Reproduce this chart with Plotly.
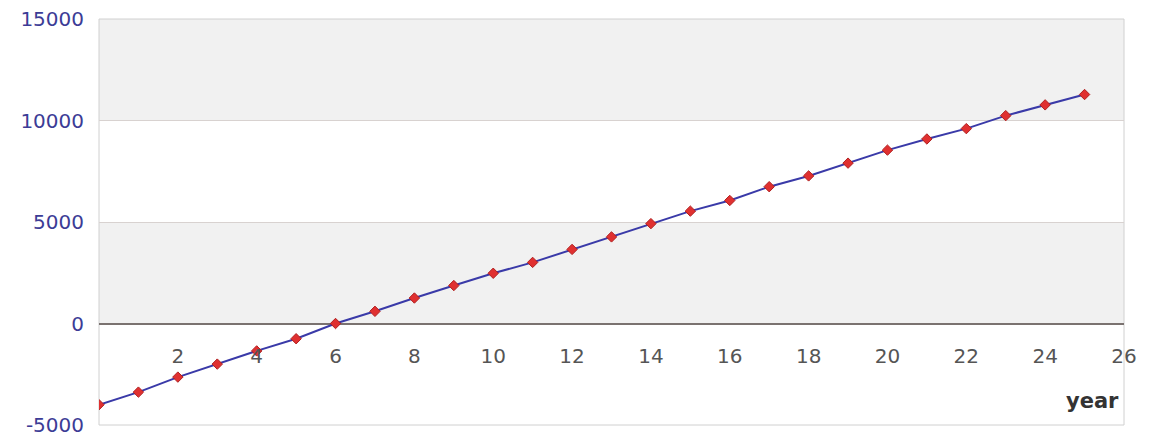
import plotly.graph_objects as go

years = list(range(0, 26))
values = [-4000, -3380, -2640, -2000, -1350, -750, 0, 600, 1255, 1870,
          2475, 3010, 3650, 4265, 4920, 5535, 6060, 6740, 7270, 7900,
          8540, 9090, 9600, 10240, 10770, 11280]
y_ticks = [-5000, 0, 5000, 10000, 15000]
y_tick_text = ["-5000", "0", "5000", "10000", "15000"]
x_ticks = list(range(2, 27, 2))
band_colors = ["rgba(0,0,0,0)", "#f1f1f1", "rgba(0,0,0,0)", "#f1f1f1"]

fig = go.Figure()
fig.add_trace(go.Scatter(
    x=years, y=values, mode="lines+markers",
    line=dict(color="#3a3aa8", width=2),
    marker=dict(symbol="diamond", size=8, color="#e03030",
                line=dict(color="#b02020", width=1)),
    showlegend=False, hoverinfo="x+y",
))

shapes = []
for i in range(len(y_ticks) - 1):
    shapes.append(dict(type="rect", xref="paper", yref="y", x0=0, x1=1,
                       y0=y_ticks[i], y1=y_ticks[i + 1],
                       fillcolor=band_colors[i], line=dict(width=0),
                       layer="below"))
shapes.append(dict(type="rect", xref="paper", yref="paper", x0=0, x1=1,
                   y0=0, y1=1, line=dict(color="#d0d0d0", width=1),
                   fillcolor="rgba(0,0,0,0)", layer="below"))

fig.update_layout(
    width=1141, height=438,
    margin=dict(l=91, r=25, t=11, b=21),
    paper_bgcolor="white", plot_bgcolor="white",
    font=dict(family="DejaVu Sans"),
    shapes=shapes,
    xaxis=dict(range=[0, 26], tickvals=x_ticks, showgrid=False,
               zeroline=False, showline=False, ticks="",
               anchor="free", automargin=False,
               position=(0 - y_ticks[0]) / (y_ticks[-1] - y_ticks[0]),
               ticklabelstandoff=18,
               tickfont=dict(size=20, color="#555555")),
    yaxis=dict(range=[y_ticks[0], y_ticks[-1]], tickvals=y_ticks,
               ticktext=y_tick_text, automargin=False,
               ticklabeloverflow="allow",
               showgrid=True, gridcolor="#d8d2d0", gridwidth=1,
               zeroline=True, zerolinecolor="#7a7270", zerolinewidth=2,
               showline=False, ticks="", ticklabelstandoff=14,
               tickfont=dict(size=20, color="#3c3c96")),
    annotations=[dict(text="<b>year</b>", xref="paper", yref="paper",
                      x=0.997, y=0.025, xanchor="right", yanchor="bottom",
                      showarrow=False, bgcolor="white",
                      font=dict(size=21, color="#333333"))],
)

fig.write_html("out.html")
